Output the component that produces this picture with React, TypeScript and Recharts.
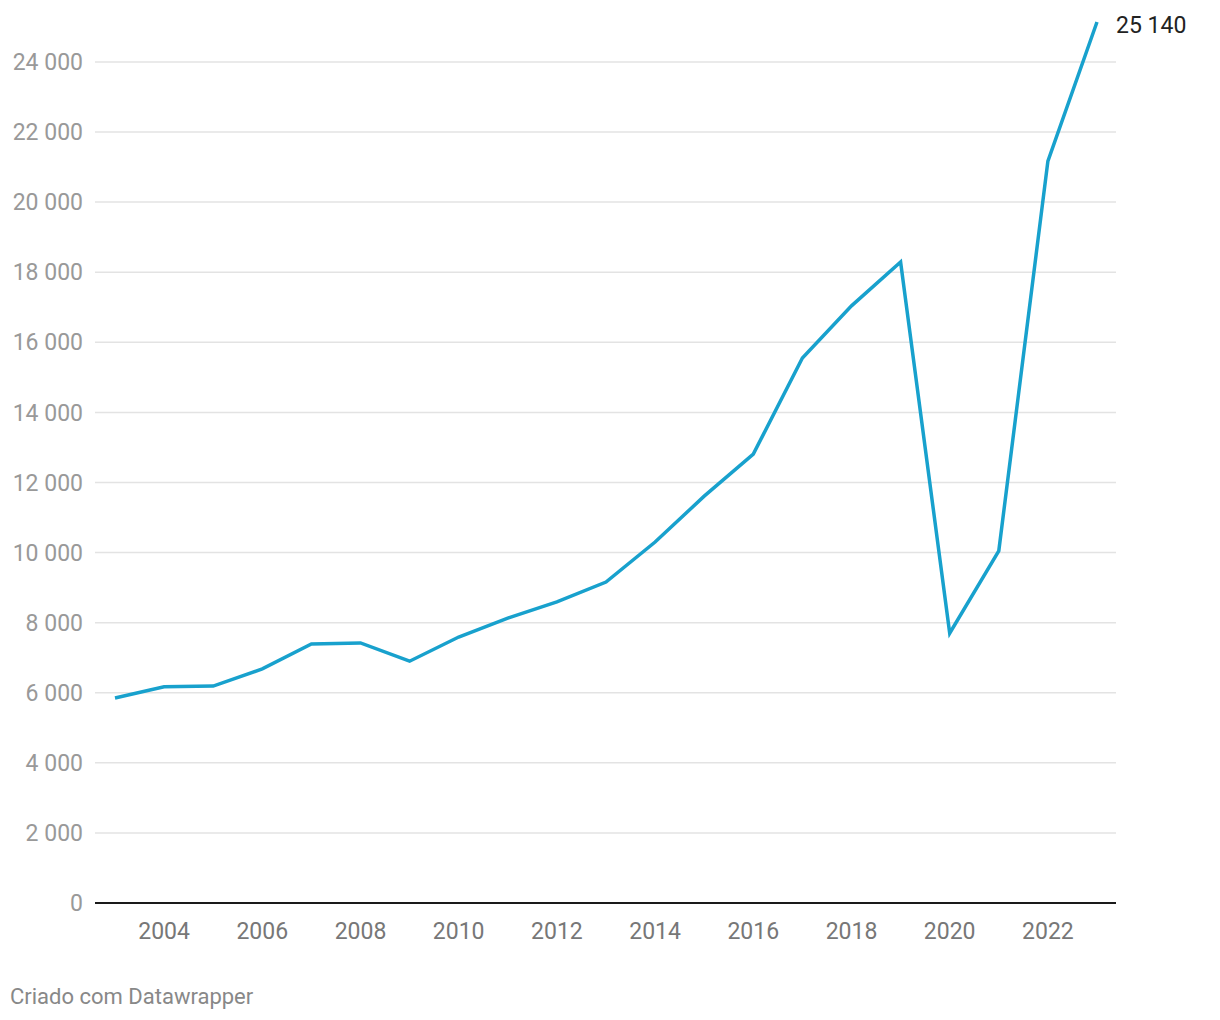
import React from "react";
import { LineChart, Line, XAxis, YAxis, CartesianGrid } from "recharts";

const years = [2003, 2004, 2005, 2006, 2007, 2008, 2009, 2010, 2011, 2012, 2013, 2014, 2015, 2016, 2017, 2018, 2019, 2020, 2021, 2022, 2023];
const values = [5850, 6170, 6190, 6680, 7390, 7420, 6900, 7590, 8130, 8590, 9160, 10300, 11610, 12810, 15550, 17040, 18290, 7700, 10050, 21170, 25140];
const yTicks = [0, 2000, 4000, 6000, 8000, 10000, 12000, 14000, 16000, 18000, 20000, 22000, 24000];
const xTicks = [2004, 2006, 2008, 2010, 2012, 2014, 2016, 2018, 2020, 2022];

const data = years.map((y, i) => ({ year: y, value: values[i] }));

const fmt = (v: number) => String(Math.round(v)).replace(/\B(?=(\d{3})+(?!\d))/g, " ");

const FONT = "Roboto, 'Noto Sans', sans-serif";
const TOP = 14;

const EndLabel = (props: any) => {
  const { x, y, index } = props;
  if (index !== data.length - 1) return null;
  return (
    <text x={x + 19} y={y + 5} fill="#222" fontSize={23} fontFamily={FONT} textAnchor="start" dominantBaseline="middle">
      {fmt(data[index].value)}
    </text>
  );
};

const GridLine = (p: any) => {
  if (p.y1 <= TOP + 2) return <g />;
  return <line x1={p.x1} x2={p.x2} y1={p.y1} y2={p.y2} stroke="#e3e3e3" strokeWidth={1.5} />;
};

export default function App() {
  return (
    <div style={{ position: "relative", width: 1204, height: 1004, fontFamily: FONT }}>
      <LineChart width={1204} height={940} data={data} margin={{ top: TOP, right: 96, bottom: 5, left: 0 }}>
        <CartesianGrid vertical={false} horizontal={GridLine as any} />
        <XAxis
          dataKey="year"
          type="number"
          domain={[2003, 2023]}
          ticks={xTicks}
          padding={{ left: 20, right: 19 }}
          tickLine={false}
          tickSize={0}
          tickMargin={20}
          height={40}
          axisLine={{ stroke: "#1a1a1a", strokeWidth: 2 }}
          tick={{ fill: "#777", fontSize: 23, fontFamily: FONT }}
        />
        <YAxis
          type="number"
          domain={[0, 25140]}
          ticks={yTicks}
          width={87}
          axisLine={false}
          tickLine={false}
          tickSize={0}
          tickMargin={12}
          tickFormatter={fmt}
          tick={{ fill: "#999", fontSize: 23, fontFamily: FONT }}
        />
        <Line
          type="linear"
          dataKey="value"
          stroke="#18a1cd"
          strokeWidth={3.5}
          dot={false}
          activeDot={false}
          isAnimationActive={false}
          label={<EndLabel />}
        />
      </LineChart>
      <div style={{ position: "absolute", left: 2, top: 975, fontSize: 22, color: "#888", fontFamily: FONT, lineHeight: "28px" }}>
        Criado com Datawrapper
      </div>
    </div>
  );
}
